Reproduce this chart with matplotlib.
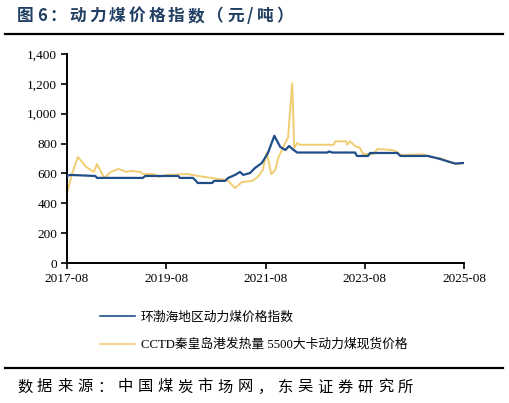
import numpy as np
import pandas as pd
import matplotlib
matplotlib.use('Agg')
import matplotlib.pyplot as plt
import matplotlib.dates as mdates
from matplotlib.ticker import FuncFormatter

# 环渤海地区动力煤价格指数
bohai_dates = ['2017-08-01', '2017-08-25', '2018-02-25', '2018-03-10', '2019-02-10',
               '2019-02-28', '2019-10-28', '2019-11-10', '2020-02-14', '2020-03-01',
               '2020-03-20', '2020-07-05', '2020-07-18', '2020-10-08', '2020-10-30',
               '2020-12-20', '2021-01-25', '2021-02-18', '2021-04-10', '2021-05-15',
               '2021-07-05', '2021-08-18', '2021-10-05', '2021-11-18', '2021-12-25',
               '2022-01-22', '2022-02-14', '2022-03-22', '2022-10-30', '2022-11-12',
               '2022-12-05', '2023-05-22', '2023-06-05', '2023-08-25', '2023-09-10',
               '2024-03-28', '2024-04-20', '2024-11-10', '2025-02-05', '2025-04-20',
               '2025-05-28', '2025-07-28']
bohai_vals = [583, 590, 583, 570, 570,
              583, 583, 570, 570, 556,
              536, 536, 550, 550, 570,
              590, 610, 590, 603, 636,
              670, 735, 852, 777, 757,
              784, 764, 740, 740, 747,
              740, 740, 717, 717, 737,
              737, 717, 717, 697, 676,
              666, 670]

# CCTD秦皇岛港发热量5500大卡动力煤现货价格
cctd_dates = ['2017-08-01', '2017-09-05', '2017-10-20', '2017-12-20', '2018-02-15',
              '2018-03-10', '2018-05-01', '2018-06-20', '2018-08-15', '2018-10-10',
              '2018-11-15', '2019-01-25', '2019-02-10', '2019-05-01', '2019-06-10',
              '2019-08-05', '2020-01-01', '2020-05-10', '2020-08-20', '2020-10-25',
              '2020-12-20', '2021-02-10', '2021-04-25', '2021-06-05', '2021-07-12',
              '2021-08-10', '2021-09-12', '2021-10-12', '2021-11-02', '2021-12-10',
              '2022-01-15', '2022-01-22', '2022-02-14', '2022-02-28', '2022-03-22',
              '2022-04-12', '2022-12-15', '2022-12-28', '2023-03-18', '2023-03-25',
              '2023-04-15', '2023-05-22', '2023-06-28', '2023-07-20', '2023-10-01',
              '2023-11-05', '2024-02-28', '2024-03-28', '2024-04-20', '2024-10-05',
              '2024-11-25', '2025-02-05', '2025-04-20', '2025-06-15', '2025-07-28']
cctd_vals = [470, 590, 710, 643, 610,
             663, 570, 610, 630, 610,
             617, 610, 596, 596, 576,
             590, 596, 576, 563, 556,
             502, 543, 550, 576, 623,
             740, 596, 623, 703, 777,
             844, 938, 1205, 770, 804,
             792, 792, 815, 815, 792,
             815, 784, 770, 730, 730,
             764, 755, 743, 723, 728,
             710, 703, 676, 663, 670]

tick_dates = ['2017-08-01', '2019-08-01', '2021-08-01', '2023-08-01', '2025-08-01']
y_ticks = [0, 200, 400, 600, 800, 1000, 1200, 1400]

label_bohai = '环渤海地区动力煤价格指数'
label_cctd = 'CCTD秦皇岛港发热量 5500大卡动力煤现货价格'
title = '图6：动力煤价格指数（元/吨）'
source = '数据来源：中国煤炭市场网，东吴证券研究所'

mixed = ['Liberation Serif', 'Noto Sans CJK SC']
cjk = ['Noto Sans CJK SC', 'DejaVu Sans']

W, H = 509, 403
fig = plt.figure(figsize=(W / 100, H / 100), dpi=100)
ax = fig.add_axes([67 / W, 1 - 263 / H, (464 - 67) / W, (263 - 54) / H])

ax.plot(pd.to_datetime(bohai_dates), bohai_vals, color='#1F4E89', lw=1.6, label=label_bohai, zorder=3)
ax.plot(pd.to_datetime(cctd_dates), cctd_vals, color='#F0CD72', lw=1.4, label=label_cctd, zorder=2)

ax.set_xlim(pd.Timestamp(tick_dates[0]), pd.Timestamp(tick_dates[-1]))
ax.set_ylim(0, 1400)
ax.set_xticks(pd.to_datetime(tick_dates))
ax.xaxis.set_major_formatter(mdates.DateFormatter('%Y-%m'))
ax.set_yticks(y_ticks)
ax.yaxis.set_major_formatter(FuncFormatter(lambda v, p: f'{int(v):,}'))

for s in ['top', 'right']:
    ax.spines[s].set_visible(False)
for s in ['left', 'bottom']:
    ax.spines[s].set_linewidth(1.4)
ax.tick_params(axis='both', direction='out', length=4, width=1.2, labelsize=9.5, pad=3)
for lbl in ax.get_xticklabels() + ax.get_yticklabels():
    lbl.set_family('Liberation Serif')

leg = ax.legend(loc='upper left', bbox_to_anchor=(88 / W, 1 - 300 / H), bbox_transform=fig.transFigure,
                frameon=False, handlelength=2.8, handletextpad=0.45, labelspacing=1.15,
                prop={'family': mixed, 'size': 9.2})
for h in leg.get_lines():
    h.set_linewidth(1.2)

renderer = fig.canvas.get_renderer()


# draw a string with extra letter spacing (the reference uses wide tracking)
def tracked_text(x_px, y_px, s, track_px, **kw):
    x = x_px
    for ch in s:
        t = fig.text(x / W, 1 - y_px / H, ch, ha='left', va='center', **kw)
        w = t.get_window_extent(renderer).width
        x += w + track_px


tracked_text(17, 16, title, 3.1, family=cjk, fontsize=12, fontweight='bold', color='#213E63')
fig.add_artist(plt.Line2D([5 / W, 503 / W], [1 - 34 / H] * 2, color='black', lw=1.6))
fig.add_artist(plt.Line2D([5 / W, 503 / W], [1 - 368 / H] * 2, color='black', lw=1.6))
tracked_text(17, 387, source, 4.8, family=cjk, fontsize=11, color='black')

fig.savefig('out.png', dpi=100)
